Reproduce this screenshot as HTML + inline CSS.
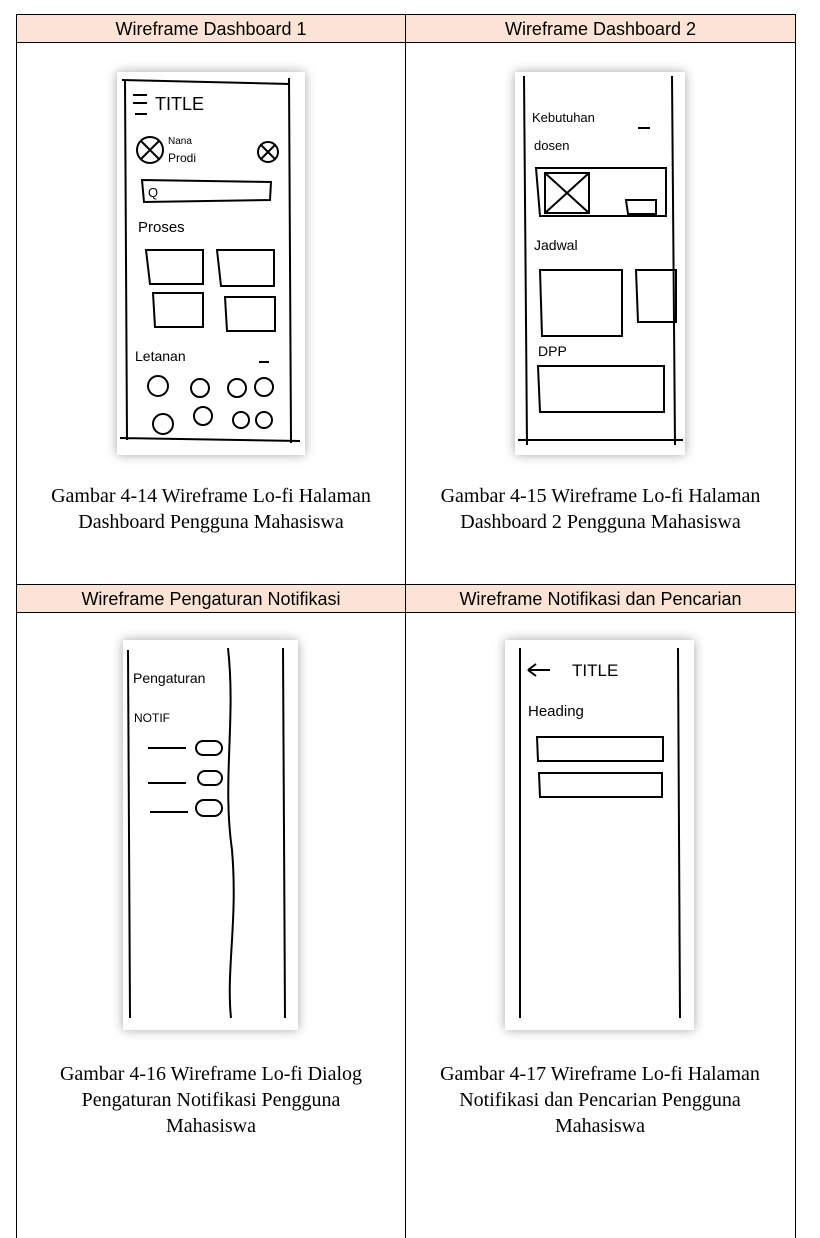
<!DOCTYPE html>
<html><head><style>
body{margin:0;background:#fff;width:820px;height:1238px;position:relative;overflow:hidden;font-family:"Liberation Serif",serif}
.h{position:absolute;background:#fbe4d5;font-family:"Liberation Sans",sans-serif;font-size:18px;text-align:center;line-height:28px;color:#000}
.l{position:absolute;background:#000}
.c{position:absolute;font-size:20px;text-align:center;line-height:26px;color:#000}
.img{position:absolute;background:#fff;box-shadow:0 0 10px rgba(0,0,0,.35)}
svg{position:absolute;left:0;top:0}
svg *{fill:none;stroke:#000;stroke-width:2}
svg text{fill:#000;stroke:none;font-family:"Liberation Sans",sans-serif}
</style></head><body>
<div class="h" style="left:17px;top:15px;width:388px;height:27px">Wireframe Dashboard 1</div>
<div class="h" style="left:406px;top:15px;width:389px;height:27px">Wireframe Dashboard 2</div>
<div class="h" style="left:17px;top:585px;width:388px;height:27px">Wireframe Pengaturan Notifikasi</div>
<div class="h" style="left:406px;top:585px;width:389px;height:27px">Wireframe Notifikasi dan Pencarian</div>
<div class="l" style="left:16px;top:14px;width:780px;height:1px"></div>
<div class="l" style="left:16px;top:42px;width:780px;height:1px"></div>
<div class="l" style="left:16px;top:584px;width:780px;height:1px"></div>
<div class="l" style="left:16px;top:612px;width:780px;height:1px"></div>
<div class="l" style="left:16px;top:14px;width:1px;height:1224px"></div>
<div class="l" style="left:405px;top:14px;width:1px;height:1224px"></div>
<div class="l" style="left:795px;top:14px;width:1px;height:1224px"></div>

<div class="img" style="left:117px;top:72px;width:188px;height:383px"></div>
<div class="img" style="left:515px;top:72px;width:170px;height:383px"></div>
<div class="img" style="left:123px;top:640px;width:175px;height:390px"></div>
<div class="img" style="left:505px;top:640px;width:189px;height:390px"></div>

<svg width="820" height="1238">
<!-- img1 -->
<path d="M122 80 L290 84 M125 80 L127 440 M289 78 L291 443 M120 438 L300 441"/>
<path d="M133 95h14M133 103h14M135 114h12"/>
<text x="155" y="110" font-size="18">TITLE</text>
<circle cx="150" cy="150" r="13"/><path d="M141 141l18 18M159 141l-18 18"/>
<circle cx="268" cy="152" r="10"/><path d="M261 145l14 14M275 145l-14 14"/>
<text x="168" y="144" font-size="10">Nana</text><text x="168" y="162" font-size="12">Prodi</text>
<path d="M142 180 L271 182 L270 200 L144 202 Z"/><text x="148" y="197" font-size="13">Q</text>
<text x="138" y="232" font-size="15">Proses</text>
<path d="M146 250h57v34h-53zM217 250h57v36h-53zM153 293h50v34h-48zM225 297h50v34h-48z"/>
<text x="135" y="361" font-size="14">Letanan</text><path d="M259 362h10"/>
<circle cx="158" cy="386" r="10"/><circle cx="200" cy="388" r="9"/><circle cx="237" cy="388" r="9"/><circle cx="264" cy="387" r="9"/>
<circle cx="163" cy="424" r="10"/><circle cx="203" cy="416" r="9"/><circle cx="241" cy="420" r="8"/><circle cx="264" cy="420" r="8"/>
<!-- img2 -->
<path d="M524 76 L527 445 M672 76 L675 445 M518 440 L683 440"/>
<text x="532" y="122" font-size="13">Kebutuhan</text><text x="534" y="150" font-size="13">dosen</text><path d="M638 128h12"/>
<path d="M536 168h130v48h-126z M545 173h44v40h-44z M545 173l44 40M589 173l-44 40 M626 200h30v14h-28z"/>
<text x="534" y="250" font-size="14">Jadwal</text>
<path d="M540 270h82v66h-80z M636 270h40v52h-38z"/>
<text x="538" y="356" font-size="14">DPP</text>
<path d="M538 366h126v46h-124z"/>
<!-- img3 -->
<path d="M128 650 L130 1018 M283 648 L285 1018 M228 648 C236 720 222 780 232 850 C238 920 226 970 231 1018"/>
<text x="133" y="683" font-size="14">Pengaturan</text><text x="134" y="722" font-size="12">NOTIF</text>
<path d="M148 748h38M148 783h38M150 812h38"/>
<rect x="196" y="741" width="26" height="14" rx="7"/><rect x="198" y="771" width="24" height="14" rx="7"/><rect x="196" y="800" width="26" height="16" rx="8"/>
<!-- img4 -->
<path d="M520 648 L520 1018 M678 648 L680 1018"/>
<path d="M528 670h22M528 670l8-6M528 670l8 6"/>
<text x="572" y="676" font-size="17">TITLE</text>
<text x="528" y="716" font-size="15">Heading</text>
<path d="M537 737h126v24h-125z M539 773h123v24h-122z"/>
</svg>

<div class="c" style="left:17px;top:483px;width:388px">Gambar 4-14 Wireframe Lo-fi Halaman Dashboard Pengguna Mahasiswa</div>
<div class="c" style="left:406px;top:483px;width:389px">Gambar 4-15 Wireframe Lo-fi Halaman Dashboard 2 Pengguna Mahasiswa</div>
<div class="c" style="left:46px;top:1061px;width:330px">Gambar 4-16 Wireframe Lo-fi Dialog Pengaturan Notifikasi Pengguna Mahasiswa</div>
<div class="c" style="left:425px;top:1061px;width:350px">Gambar 4-17 Wireframe Lo-fi Halaman Notifikasi dan Pencarian Pengguna Mahasiswa</div>
</body></html>
